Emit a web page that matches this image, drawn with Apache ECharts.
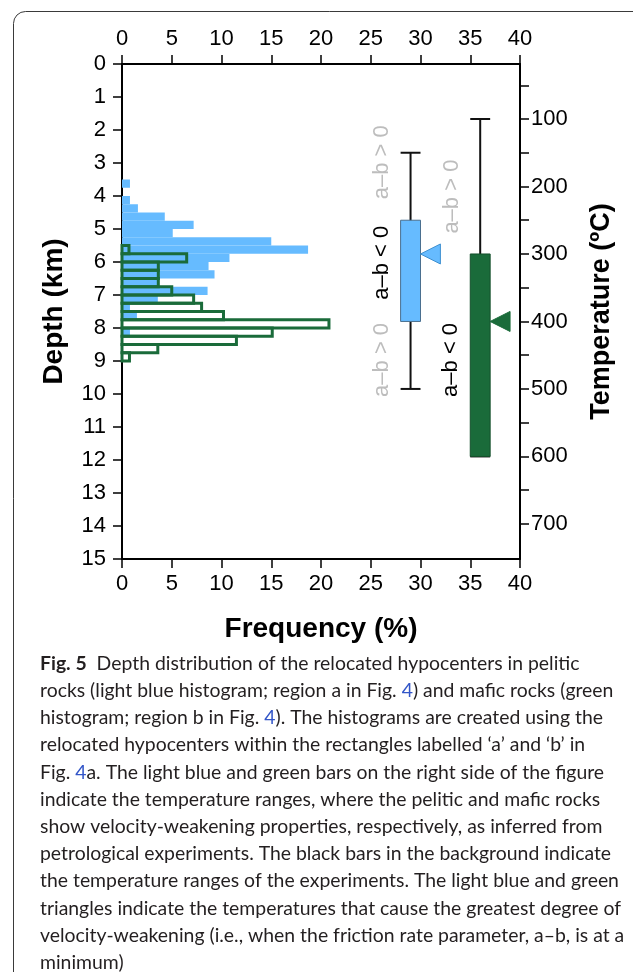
<!DOCTYPE html>
<html>
<head>
<meta charset="utf-8">
<script src="https://cdn.jsdelivr.net/npm/echarts@6/dist/echarts.min.js"></script>
<style>
	html, body { margin: 0; padding: 0; background: #fff; }
	#chart { width: 633px; height: 972px; }
</style>
</head>
<body>
<div id="chart"></div>
<script>
	// histogram bins (depth km, 0.25 km step), frequency in %
	var binStep = 0.25;
	var blueStart = 3.5;
	var blueFreq = [0.8, 0, 0.8, 1.6, 4.3, 7.2, 5.1, 15.0, 18.7, 10.8, 8.7, 9.3, 3.6, 8.6, 3.6, 0.8, 1.5, 0, 0.8];
	var greenStart = 5.5;
	var greenFreq = [0.7, 6.5, 3.65, 3.65, 3.65, 5.0, 7.2, 8.0, 10.2, 20.8, 15.1, 11.5, 3.6, 0.75];

	// temperature ranges (deg C) drawn on the right
	var rangeX = [29, 36];
	var expLow = [150, 100];
	var expHigh = [500, 600];
	var vwLow = [250, 300];
	var vwHigh = [400, 600];
	var vwMin = [300, 400];
	var rangeColor = ["#66bbff", "#1a6b3a"];
	var rangeEdge = ["#4a6f8f", "#15502c"];

	// a-b labels: [x (freq), temperature, text, 1 = dark]
	var abLabels = [
		[26.1, 164, "a\u2013b > 0", 0],
		[26.1, 313, "a\u2013b < 0", 1],
		[26.1, 457, "a\u2013b > 0", 0],
		[33.2, 215, "a\u2013b > 0", 0],
		[33.1, 457, "a\u2013b < 0", 1]
	];

	var depthTicks = { min: 0, max: 15, interval: 1 };
	var freqTicks = { min: 0, max: 40, interval: 5 };
	var tempMin = 18.5;
	var tempMax = 752;
	var tempLabels = [100, 200, 300, 400, 500, 600, 700];
	var tempTicks = [50, 100, 150, 200, 250, 300, 350, 400, 450, 500, 550, 600, 650, 700];

	var captionLines = [
		"{b|Fig. 5}  Depth distribution of the relocated hypocenters in pelitic",
		"rocks (light blue histogram; region a in Fig. {l|4}) and mafic rocks (green",
		"histogram; region b in Fig. {l|4}). The histograms are created using the",
		"relocated hypocenters within the rectangles labelled \u2018a\u2019 and \u2018b\u2019 in",
		"Fig. {l|4}a. The light blue and green bars on the right side of the figure",
		"indicate the temperature ranges, where the pelitic and mafic rocks",
		"show velocity-weakening properties, respectively, as inferred from",
		"petrological experiments. The black bars in the background indicate",
		"the temperature ranges of the experiments. The light blue and green",
		"triangles indicate the temperatures that cause the greatest degree of",
		"velocity-weakening (i.e., when the friction rate parameter, a\u2013b, is at a",
		"minimum)"
	];

	var FONT = "'Liberation Sans', Arial, Helvetica, sans-serif";
	var CAPTION_FONT = "Lato, 'Noto Sans', sans-serif";

	function bins(start, freqs)
	{
		var re = [];
		for(var i=0; i<freqs.length; i++)
		{
			if(freqs[i] > 0)
				re.push([start + i*binStep, start + (i+1)*binStep, freqs[i]]);
		}
		return re;
	}

	function histItem(fill, stroke, lineWidth)
	{
		return function(params, api)
		{
			var p0 = api.coord([0, api.value(0)]);
			var p1 = api.coord([api.value(2), api.value(1)]);
			return {
				type: "rect",
				shape: { x: p0[0], y: p0[1], width: p1[0] - p0[0], height: p1[1] - p0[1] },
				style: { fill: fill, stroke: stroke, lineWidth: lineWidth }
			};
		};
	}

	var rangeData = [];
	for(var i=0; i<rangeX.length; i++)
		rangeData.push([rangeX[i], expLow[i], expHigh[i], vwLow[i], vwHigh[i], vwMin[i], i]);

	function rangeItem(params, api)
	{
		var x = api.value(0), idx = api.value(6);
		var half = 1;
		var eTop = api.coord([x, api.value(1)]);
		var eBot = api.coord([x, api.value(2)]);
		var bL = api.coord([x - half, api.value(3)]);
		var bR = api.coord([x + half, api.value(4)]);
		var tip = api.coord([x + half, api.value(5)]);
		var base = api.coord([x + half + 2, api.value(5)]);
		var capL = api.coord([x - half, 0])[0];
		var capR = api.coord([x + half, 0])[0];
		var lineStyle = { stroke: "#111", lineWidth: 2 };
		return {
			type: "group",
			children: [
				{ type: "line", shape: { x1: eTop[0], y1: eTop[1], x2: eBot[0], y2: eBot[1] }, style: lineStyle },
				{ type: "line", shape: { x1: capL, y1: eTop[1], x2: capR, y2: eTop[1] }, style: lineStyle },
				{ type: "line", shape: { x1: capL, y1: eBot[1], x2: capR, y2: eBot[1] }, style: lineStyle },
				{
					type: "rect",
					shape: { x: bL[0], y: bL[1], width: bR[0] - bL[0], height: bR[1] - bL[1] },
					style: { fill: rangeColor[idx], stroke: rangeEdge[idx], lineWidth: 1 }
				},
				{
					type: "polygon",
					shape: { points: [[tip[0], tip[1]], [base[0], tip[1] - 10], [base[0], tip[1] + 10]] },
					style: { fill: rangeColor[idx], stroke: idx == 0 ? "#3d8fd0" : rangeColor[idx], lineWidth: 1 }
				}
			]
		};
	}

	function abLabelItem(params, api)
	{
		var p = api.coord([api.value(0), api.value(1)]);
		var item = abLabels[params.dataIndex];
		return {
			type: "text",
			x: p[0],
			y: p[1],
			rotation: Math.PI / 2,
			style: {
				text: item[2],
				fill: item[3] ? "#000" : "#bdbdbd",
				font: "22px " + FONT,
				align: "center",
				verticalAlign: "middle"
			}
		};
	}

	var axisCommon = function()
	{
		return {
			axisLine: { show: true, onZero: false, lineStyle: { color: "#000", width: 2 } },
			axisTick: { show: true, inside: false, length: 9, lineStyle: { color: "#000", width: 1.5 } },
			axisLabel: { color: "#000", fontSize: 22, fontFamily: FONT },
			splitLine: { show: false }
		};
	};

	var xBottom = axisCommon();
	xBottom.type = "value";
	xBottom.position = "bottom";
	xBottom.min = freqTicks.min;
	xBottom.max = freqTicks.max;
	xBottom.interval = freqTicks.interval;
	xBottom.axisLabel.margin = 14;
	xBottom.name = "Frequency (%)";
	xBottom.nameLocation = "middle";
	xBottom.nameGap = 56;
	xBottom.nameTextStyle = { color: "#000", fontSize: 28, fontWeight: "bold", fontFamily: FONT, verticalAlign: "top" };

	var xTop = axisCommon();
	xTop.type = "value";
	xTop.position = "top";
	xTop.min = freqTicks.min;
	xTop.max = freqTicks.max;
	xTop.interval = freqTicks.interval;
	xTop.axisLabel.margin = 14;

	var yLeft = axisCommon();
	yLeft.type = "value";
	yLeft.position = "left";
	yLeft.inverse = true;
	yLeft.min = depthTicks.min;
	yLeft.max = depthTicks.max;
	yLeft.interval = depthTicks.interval;
	yLeft.axisLabel.margin = 16;
	yLeft.name = "Depth (km)";
	yLeft.nameLocation = "middle";
	yLeft.nameGap = 54;
	yLeft.nameTextStyle = { color: "#000", fontSize: 28, fontWeight: "bold", fontFamily: FONT };

	var yRight = axisCommon();
	yRight.type = "value";
	yRight.position = "right";
	yRight.inverse = true;
	yRight.min = tempMin;
	yRight.max = tempMax;
	yRight.axisLabel.margin = 11;
	yRight.axisLabel.customValues = tempLabels;
	yRight.axisTick.customValues = tempTicks;
	yRight.name = "Temperature (\u00baC)";
	yRight.nameLocation = "middle";
	yRight.nameGap = 68;
	yRight.nameTextStyle = { color: "#000", fontSize: 27, fontWeight: "bold", fontFamily: FONT };

	var chart = echarts.init(document.getElementById("chart"), null, { renderer: "canvas" });

	chart.setOption({
		backgroundColor: "#fff",
		animation: false,
		textStyle: { fontFamily: FONT },
		grid: { left: 122, right: 113, top: 64, bottom: 413, containLabel: false },
		xAxis: [xBottom, xTop],
		yAxis: [yLeft, yRight],
		graphic: [
			{
				type: "rect",
				silent: true,
				shape: { x: 13.5, y: 11.5, width: 700, height: 1100, r: 12 },
				style: { fill: "none", stroke: "#3a3a3a", lineWidth: 1 }
			},
			{
				type: "text",
				left: 40,
				top: 650,
				silent: true,
				style: {
					text: captionLines.join("\n"),
					font: "19.4px " + CAPTION_FONT,
					fill: "#231f20",
					lineHeight: 27.2,
					rich: {
						b: { fontWeight: "bold", fontSize: 19.4, fontFamily: CAPTION_FONT, fill: "#231f20", lineHeight: 27.2 },
						l: { fontSize: 19.4, fontFamily: CAPTION_FONT, fill: "#3356c8", lineHeight: 27.2 }
					}
				}
			}
		],
		series: [
			{
				type: "custom",
				name: "pelitic",
				xAxisIndex: 0,
				yAxisIndex: 0,
				renderItem: histItem("#66bbff", null, 0),
				data: bins(blueStart, blueFreq),
				z: 2
			},
			{
				type: "custom",
				name: "mafic",
				xAxisIndex: 0,
				yAxisIndex: 0,
				renderItem: histItem(null, "#1a6b3a", 3),
				data: bins(greenStart, greenFreq),
				z: 3
			},
			{
				type: "custom",
				name: "ranges",
				xAxisIndex: 0,
				yAxisIndex: 1,
				renderItem: rangeItem,
				data: rangeData,
				z: 4
			},
			{
				type: "custom",
				name: "abLabels",
				xAxisIndex: 0,
				yAxisIndex: 1,
				renderItem: abLabelItem,
				data: abLabels.map(function(d) { return [d[0], d[1]]; }),
				z: 5
			}
		]
	});
</script>
</body>
</html>
